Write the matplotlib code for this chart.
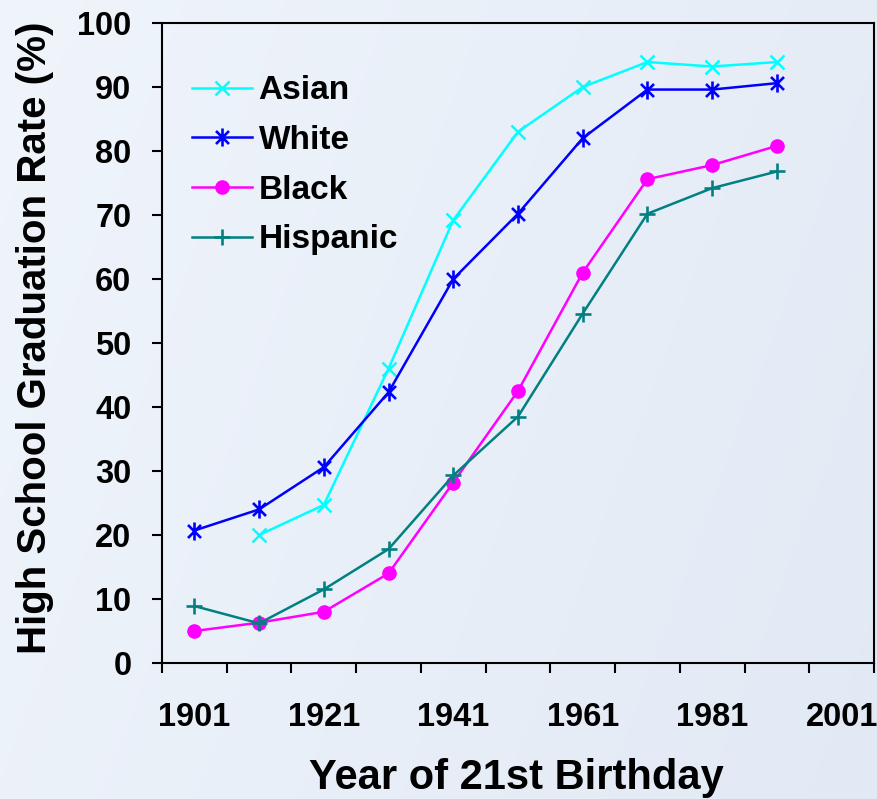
import numpy as np
import matplotlib
matplotlib.use('Agg')
from matplotlib import pyplot as plt
from matplotlib.path import Path

years = [1901, 1911, 1921, 1931, 1941, 1951, 1961, 1971, 1981, 1991, 2001]
asian = [np.nan, 20.0, 24.7, 46.0, 69.2, 83.0, 90.0, 93.9, 93.2, 93.9, np.nan]
white = [20.7, 24.0, 30.6, 42.3, 60.0, 70.2, 82.0, 89.6, 89.6, 90.6, np.nan]
black = [5.0, 6.3, 8.0, 14.0, 28.2, 42.5, 61.0, 75.6, 77.8, 80.8, np.nan]
hispanic = [8.9, 6.2, 11.5, 17.8, 29.3, 38.5, 54.6, 70.2, 74.2, 76.8, np.nan]

# star marker like excel: vertical bar + x
star = Path([(0, -1), (0, 1), (-0.72, -0.72), (0.72, 0.72), (-0.72, 0.72), (0.72, -0.72)],
            [Path.MOVETO, Path.LINETO, Path.MOVETO, Path.LINETO, Path.MOVETO, Path.LINETO])

plt.rcParams['font.family'] = ['Liberation Sans', 'DejaVu Sans']
plt.rcParams['font.weight'] = 'bold'

fig = plt.figure(figsize=(8.77, 7.99), dpi=100)

# background gradient
bg = fig.add_axes([0, 0, 1, 1], zorder=-10)
gx, gy = np.meshgrid(np.linspace(0, 1, 200), np.linspace(0, 1, 200))
g = np.clip(0.75 * gx + 0.25 * gy, 0, 1)
c0 = np.array([0.94, 0.96, 0.985])
c1 = np.array([0.885, 0.915, 0.96])
img = c0[None, None, :] * (1 - g[..., None]) + c1[None, None, :] * g[..., None]
bg.imshow(img, aspect='auto', extent=[0, 1, 0, 1], origin='upper')
bg.axis('off')

ax = fig.add_axes([162 / 877, 136 / 799, 712 / 877, 640 / 799])
ax.set_facecolor('none')

x = np.arange(len(years))
ax.plot(x, asian, color='#00FFFF', marker='x', ms=10.5, mew=1.8, lw=1.8, label='Asian')
ax.plot(x, white, color='#0000FF', marker=star, ms=13, mew=1.9, lw=1.8, label='White')
ax.plot(x, black, color='#FF00FF', marker='o', ms=9.5, lw=1.8, label='Black')
ax.plot(x, hispanic, color='#008080', marker='+', ms=12, mew=1.9, lw=1.8, label='Hispanic')

ax.set_xlim(-0.5, len(years) - 0.5)
ax.set_ylim(0, 100)
ax.set_yticks(range(0, 101, 10))
ax.set_xticks(np.arange(-0.5, len(years), 1))
ax.set_xticklabels([])
ax.set_xticks(x[::2], [str(y) for y in years[::2]], minor=True)

ax.tick_params(axis='both', which='major', direction='out', length=7, width=1.5,
               labelsize=23.5)
ax.tick_params(axis='y', pad=15)
ax.tick_params(axis='x', which='minor', length=0, labelsize=23.5, pad=28)
for s in ax.spines.values():
    s.set_linewidth(1.5)

ax.set_ylabel('High School Graduation Rate (%)', fontsize=29, fontweight='bold')
ax.yaxis.set_label_coords(-0.152, 0.508)
ax.set_xlabel('Year of 21st Birthday', fontsize=30, fontweight='bold', va='baseline')
ax.xaxis.set_label_coords(0.498, -0.197)

ax.legend(loc='upper left', bbox_to_anchor=(0.0, 0.965), frameon=False, fontsize=24,
          handlelength=1.8, labelspacing=0.56, handletextpad=0.2)

fig.savefig('out.png', dpi=100)
